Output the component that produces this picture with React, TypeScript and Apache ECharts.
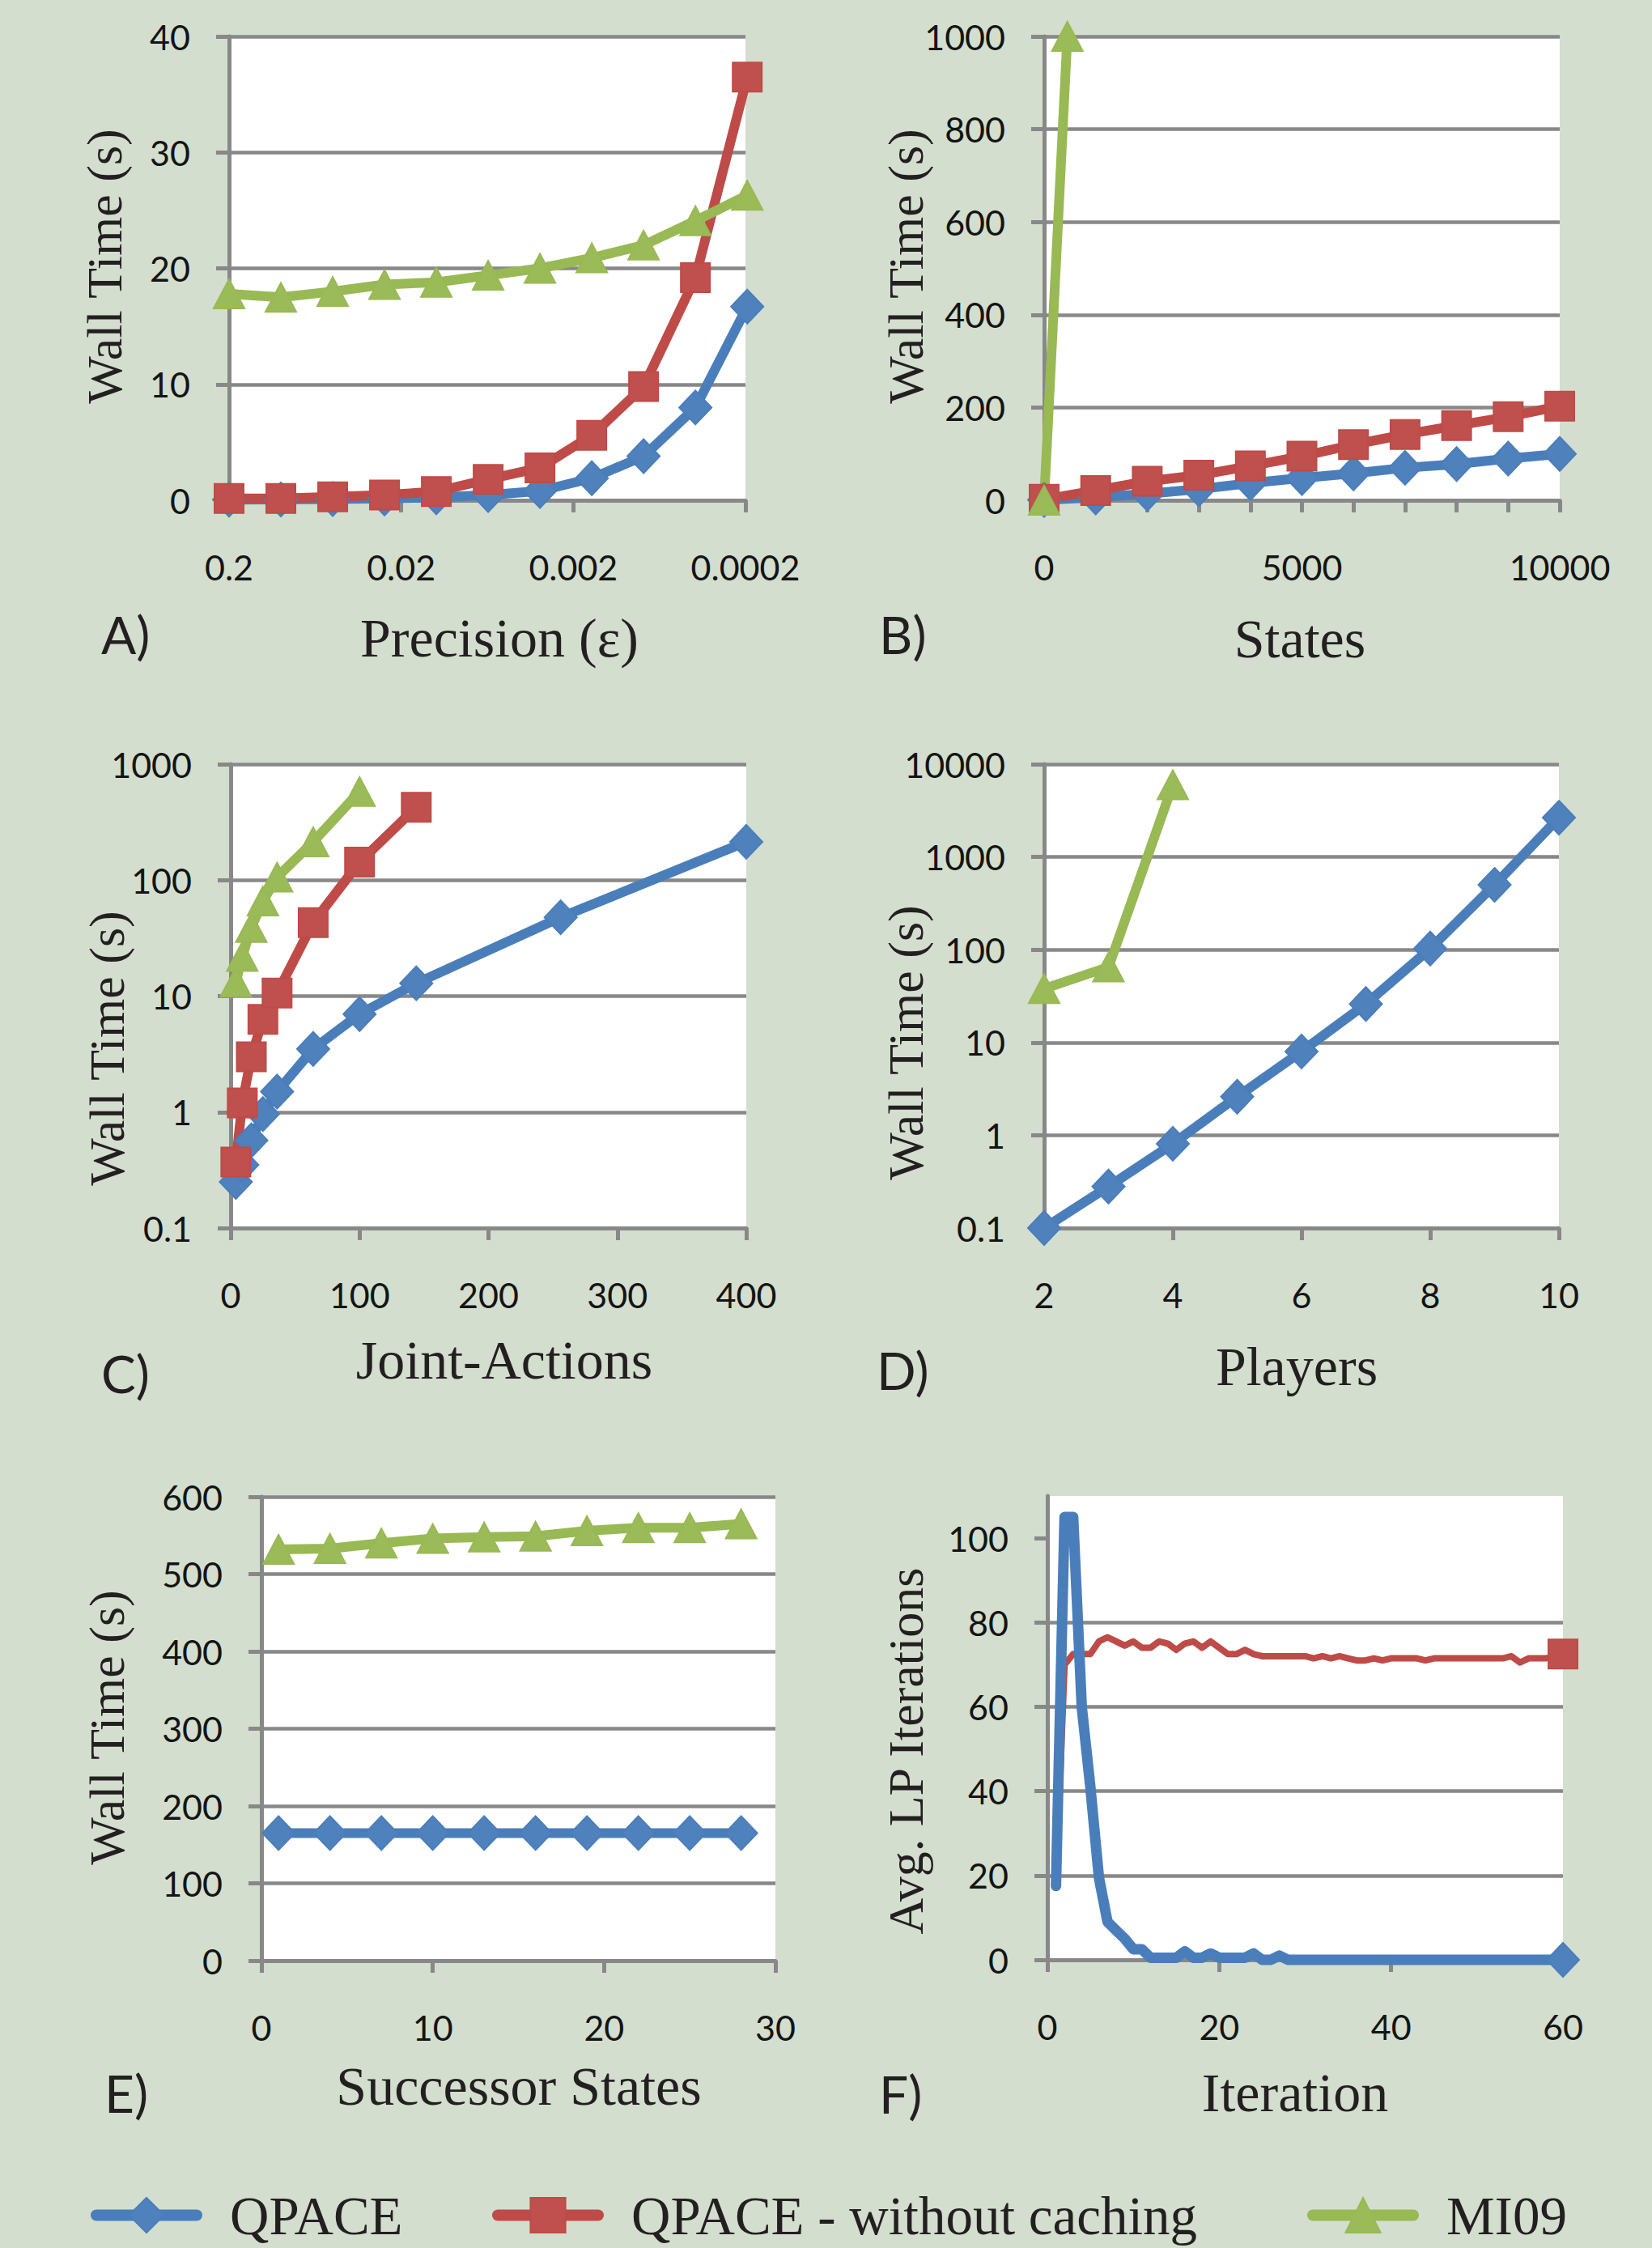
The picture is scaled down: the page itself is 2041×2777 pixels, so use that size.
import React, { useEffect, useRef } from "react";
import * as echarts from "echarts";

const W = 2041;
const H = 2777;
const BG = "#D3DECE";
const GRID = "#888888";
const TXT = "#141414";
const TITLE = "#231F20";
const SERIF = '"Liberation Serif", "Times New Roman", serif';
const SANS = 'Lato, "Open Sans", sans-serif';

const BLUE = { line: "#4A7EBB", fill: "#4F81BD" };
const RED = { line: "#BE4B48", fill: "#C0504D" };
const GREEN = { line: "#98B954", fill: "#9BBB59" };

const NAME_QPACE = "QPACE";
const NAME_NOCACHE = "QPACE - without caching";
const NAME_MI09 = "MI09";

// ---------- A) Precision ----------
const precisionX = [0.2, 0.1, 0.05, 0.025, 0.0125, 0.00625, 0.003125, 0.0015625, 0.00078125, 0.000390625, 0.0001953125];
const precisionQpace = [0.05, 0.07, 0.1, 0.15, 0.25, 0.45, 0.8, 1.9, 3.8, 8.0, 16.7];
const precisionNoCache = [0.15, 0.15, 0.3, 0.45, 0.75, 1.8, 2.8, 5.6, 9.8, 19.2, 36.5];
const precisionMi09 = [17.8, 17.5, 18.0, 18.6, 18.8, 19.4, 20.0, 20.9, 22.0, 24.1, 26.3];
const precisionTicks = [0.2, 0.02, 0.002, 0.0002];

// ---------- B) States ----------
const statesX = [0, 1000, 2000, 3000, 4000, 5000, 6000, 7000, 8000, 9000, 10000];
const statesQpace = [1, 6, 14, 24, 37, 48, 58, 70, 78, 90, 100];
const statesNoCache = [2, 21, 41, 54, 74, 95, 120, 142, 161, 180, 203];
const statesMi09X = [0, 450];
const statesMi09 = [0, 1000];

// ---------- C) Joint-Actions ----------
const jointQpaceX = [4, 9, 16, 25, 36, 64, 100, 144, 256, 400];
const jointQpace = [0.25, 0.35, 0.57, 0.96, 1.5, 3.5, 7.0, 12.9, 47.8, 214];
const jointNoCacheX = [4, 9, 16, 25, 36, 64, 100, 144];
const jointNoCache = [0.37, 1.2, 3.0, 6.3, 10.6, 43, 143, 425];
const jointMi09X = [4, 9, 16, 25, 36, 64, 100];
const jointMi09 = [13.2, 22, 39, 66, 106, 214, 580];

// ---------- D) Players ----------
const playersX = [2, 3, 4, 5, 6, 7, 8, 9, 10];
const playersQpace = [0.1, 0.28, 0.81, 2.6, 8.0, 26, 103, 500, 2650];
const playersMi09X = [2, 3, 4];
const playersMi09 = [38, 65, 6000];

// ---------- E) Successor States ----------
const successorX = [1, 4, 7, 10, 13, 16, 19, 22, 25, 28];
const successorQpace = [165, 165, 165, 165, 165, 165, 165, 165, 165, 165];
const successorMi09 = [532, 533, 540, 546, 548, 549, 556, 560, 560, 565];

// ---------- F) Iteration ----------
const iterX = [
  1, 2, 3, 4, 5, 6, 7, 8, 9, 10, 11, 12, 13, 14, 15, 16, 17, 18, 19, 20,
  21, 22, 23, 24, 25, 26, 27, 28, 29, 30, 31, 32, 33, 34, 35, 36, 37, 38, 39, 40,
  41, 42, 43, 44, 45, 46, 47, 48, 49, 50, 51, 52, 53, 54, 55, 56, 57, 58, 59, 60,
];
const iterQpace = [
  17.5, 105, 105, 60, 41, 19.5, 9, 7, 5, 2.5, 2.5, 0.5, 0.5, 0.5, 0.5, 2, 0.5, 0.5, 1.5, 0.5,
  0.5, 0.5, 0.5, 1.5, 0, 0, 1, 0, 0, 0, 0, 0, 0, 0, 0, 0, 0, 0, 0, 0,
  0, 0, 0, 0, 0, 0, 0, 0, 0, 0, 0, 0, 0, 0, 0, 0, 0, 0, 0, 0,
];
const iterNoCache = [
  17.5, 70, 72.5, 72.5, 72.5, 75.5, 76.5, 75.5, 74.5, 75.5, 74, 74, 75.5, 75, 73.5, 75, 75.5, 74, 75.5, 74,
  72.5, 72.5, 73.5, 72.5, 72, 72, 72, 72, 72, 72, 71.5, 72, 71.5, 72, 71.5, 71, 71, 71.5, 71, 71.5,
  71.5, 71.5, 71.5, 71, 71.5, 71.5, 71.5, 71.5, 71.5, 71.5, 71.5, 71.5, 71.5, 72, 70.5, 71.5, 71.5, 71.5, 72, 72.5,
];

// ---------- layout ----------
const grids = [
  { left: 283, top: 45, width: 638, height: 573 },
  { left: 1290, top: 45, width: 637, height: 573 },
  { left: 285, top: 944, width: 637, height: 573 },
  { left: 1290, top: 944, width: 636, height: 573 },
  { left: 323, top: 1849, width: 635, height: 573 },
  { left: 1294, top: 1848, width: 637, height: 573 },
];

const yTitles = [
  { text: "Wall Time (s)", x: 129, y: 329 },
  { text: "Wall Time (s)", x: 1119, y: 329 },
  { text: "Wall Time (s)", x: 132, y: 1295 },
  { text: "Wall Time (s)", x: 1119, y: 1288 },
  { text: "Wall Time (s)", x: 132, y: 2134 },
  { text: "Avg. LP Iterations", x: 1119, y: 2163 },
];
const xTitles = [
  { text: "Precision (\u03b5)", x: 617, y: 788 },
  { text: "States", x: 1606, y: 789 },
  { text: "Joint-Actions", x: 623, y: 1680 },
  { text: "Players", x: 1602, y: 1688 },
  { text: "Successor States", x: 641, y: 2577 },
  { text: "Iteration", x: 1600, y: 2585 },
];
const panelLetters = [
  { text: "A)", x: 125, y: 783 },
  { text: "B)", x: 1086, y: 783 },
  { text: "C)", x: 125, y: 1696 },
  { text: "D)", x: 1083, y: 1692 },
  { text: "E)", x: 129, y: 2585 },
  { text: "F)", x: 1086, y: 2586 },
];

const fmt = (v: number) => String(parseFloat(Number(v).toPrecision(6)));

const DIAMOND = [40, 42];
const SQUARE = 36;
const TRIANGLE = [38, 36];

function yAxis(gridIndex: number, extra: any) {
  return {
    gridIndex,
    type: "value",
    axisLine: { show: true, lineStyle: { color: GRID, width: 5 } },
    axisTick: { show: true, inside: false, length: 16, lineStyle: { color: GRID, width: 5 } },
    splitLine: { show: true, lineStyle: { color: GRID, width: 4.5 } },
    axisLabel: { margin: 48, color: TXT, fontFamily: SANS, fontSize: 43, formatter: fmt },
    ...extra,
  };
}

function xAxis(gridIndex: number, extra: any) {
  return {
    gridIndex,
    type: "value",
    axisLine: { show: true, onZero: false, lineStyle: { color: GRID, width: 5 } },
    axisTick: { show: true, inside: false, length: 15, lineStyle: { color: GRID, width: 5 } },
    splitLine: { show: false },
    axisLabel: { margin: 61, color: TXT, fontFamily: SANS, fontSize: 43, formatter: fmt },
    ...extra,
  };
}

function series(
  name: string,
  idx: number,
  xs: number[],
  ys: number[],
  sty: { line: string; fill: string },
  symbol: string,
  size: any,
  extra: any = {}
) {
  return {
    type: "line",
    name,
    xAxisIndex: idx,
    yAxisIndex: idx,
    data: xs.map((x, i) => [x, ys[i]]),
    symbol,
    symbolSize: size,
    showSymbol: true,
    showAllSymbol: true,
    clip: false,
    animation: false,
    lineStyle: { color: sty.line, width: 12, cap: "round", join: "round" },
    itemStyle: { color: sty.fill, borderColor: sty.line, borderWidth: 2 },
    emphasis: { disabled: true },
    ...extra,
  };
}

function endMarkerSeries(
  name: string,
  idx: number,
  xs: number[],
  ys: number[],
  sty: { line: string; fill: string },
  symbol: string,
  size: any,
  width: number,
  z: number
) {
  const last = xs.length - 1;
  return {
    type: "line",
    name,
    xAxisIndex: idx,
    yAxisIndex: idx,
    data: xs.map((x, i) =>
      i === last ? { value: [x, ys[i]], symbol, symbolSize: size } : { value: [x, ys[i]] }
    ),
    symbol: "none",
    showSymbol: true,
    showAllSymbol: true,
    clip: false,
    animation: false,
    z,
    lineStyle: { color: sty.line, width, cap: "round", join: "round" },
    itemStyle: { color: sty.fill, borderColor: sty.line, borderWidth: 2 },
    emphasis: { disabled: true },
  };
}

const LEGEND_CENTER = 2725;
const LEGEND_ITEM_H = 54;

function legend(name: string, left: number) {
  return {
    data: [name],
    left,
    top: LEGEND_CENTER - LEGEND_ITEM_H / 2,
    orient: "horizontal",
    itemWidth: 124,
    itemHeight: LEGEND_ITEM_H,
    selectedMode: false,
    lineStyle: { width: 14, cap: "round" },
    textStyle: {
      fontFamily: SERIF,
      fontSize: 67,
      color: TITLE,
      padding: [0, 0, 0, 36],
    },
  };
}

function textEl(t: { text: string; x: number; y: number }, font: string, align: string, rot = 0) {
  return {
    type: "text",
    x: t.x,
    y: t.y,
    rotation: rot,
    silent: true,
    style: {
      text: t.text,
      font,
      fill: TITLE,
      align,
      textAlign: align,
      verticalAlign: "middle",
      textVerticalAlign: "middle",
    },
  };
}

function buildOption() {
  const xAxes = [
    xAxis(0, {
      type: "log",
      logBase: 10,
      inverse: true,
      min: 0.0002,
      max: 0.2,
      axisLabel: {
        margin: 61,
        color: TXT,
        fontFamily: SANS,
        fontSize: 43,
        formatter: fmt,
        customValues: precisionTicks,
      },
      axisTick: {
        show: true,
        length: 15,
        lineStyle: { color: GRID, width: 5 },
        customValues: precisionTicks,
      },
    }),
    xAxis(1, {
      min: 0,
      max: 10000,
      interval: 1000,
      axisLabel: {
        margin: 61,
        color: TXT,
        fontFamily: SANS,
        fontSize: 43,
        formatter: (v: number) => (v % 5000 === 0 ? String(v) : ""),
      },
    }),
    xAxis(2, { min: 0, max: 400, interval: 100 }),
    xAxis(3, { min: 2, max: 10, interval: 2 }),
    xAxis(4, { min: 0, max: 30, interval: 10 }),
    xAxis(5, { min: 0, max: 60, interval: 20 }),
  ];

  const yAxes = [
    yAxis(0, { min: 0, max: 40, interval: 10 }),
    yAxis(1, { min: 0, max: 1000, interval: 200 }),
    yAxis(2, { type: "log", logBase: 10, min: 0.1, max: 1000, splitNumber: 4 }),
    yAxis(3, { type: "log", logBase: 10, min: 0.1, max: 10000, splitNumber: 5 }),
    yAxis(4, { min: 0, max: 600, interval: 100 }),
    yAxis(5, {
      min: 0,
      max: 110,
      interval: 20,
      axisLabel: { margin: 48, color: TXT, fontFamily: SANS, fontSize: 43, formatter: fmt, showMaxLabel: false },
      splitLine: { show: true, showMaxLine: false, lineStyle: { color: GRID, width: 4.5 } },
      axisTick: {
        show: true,
        length: 16,
        lineStyle: { color: GRID, width: 5 },
        customValues: [0, 20, 40, 60, 80, 100],
      },
    }),
  ];

  const allSeries = [
    // A
    series(NAME_QPACE, 0, precisionX, precisionQpace, BLUE, "diamond", DIAMOND),
    series(NAME_NOCACHE, 0, precisionX, precisionNoCache, RED, "rect", SQUARE),
    series(NAME_MI09, 0, precisionX, precisionMi09, GREEN, "triangle", TRIANGLE),
    // B
    series(NAME_QPACE, 1, statesX, statesQpace, BLUE, "diamond", DIAMOND),
    series(NAME_NOCACHE, 1, statesX, statesNoCache, RED, "rect", SQUARE),
    series(NAME_MI09, 1, statesMi09X, statesMi09, GREEN, "triangle", TRIANGLE),
    // C
    series(NAME_QPACE, 2, jointQpaceX, jointQpace, BLUE, "diamond", DIAMOND),
    series(NAME_NOCACHE, 2, jointNoCacheX, jointNoCache, RED, "rect", SQUARE),
    series(NAME_MI09, 2, jointMi09X, jointMi09, GREEN, "triangle", TRIANGLE),
    // D
    series(NAME_QPACE, 3, playersX, playersQpace, BLUE, "diamond", DIAMOND),
    series(NAME_MI09, 3, playersMi09X, playersMi09, GREEN, "triangle", TRIANGLE),
    // E
    series(NAME_QPACE, 4, successorX, successorQpace, BLUE, "diamond", DIAMOND),
    series(NAME_MI09, 4, successorX, successorMi09, GREEN, "triangle", TRIANGLE),
    // F
    endMarkerSeries(NAME_NOCACHE, 5, iterX, iterNoCache, RED, "rect", SQUARE, 8, 2),
    endMarkerSeries(NAME_QPACE, 5, iterX, iterQpace, BLUE, "diamond", DIAMOND, 13, 3),
  ];

  const graphics: any[] = [];
  yTitles.forEach((t) => graphics.push(textEl(t, `62px ${SERIF}`, "center", Math.PI / 2)));
  xTitles.forEach((t) => graphics.push(textEl(t, `68px ${SERIF}`, "center")));
  panelLetters.forEach((t) => graphics.push(textEl(t, `64px ${SANS}`, "left")));

  return {
    animation: false,
    backgroundColor: BG,
    grid: grids.map((g) => ({
      ...g,
      show: true,
      backgroundColor: "#FFFFFF",
      borderWidth: 0,
      containLabel: false,
    })),
    xAxis: xAxes,
    yAxis: yAxes,
    legend: [legend(NAME_QPACE, 107), legend(NAME_NOCACHE, 603), legend(NAME_MI09, 1610)],
    series: allSeries,
    graphic: { elements: graphics },
  };
}

export default function App() {
  const ref = useRef<HTMLDivElement>(null);
  useEffect(() => {
    document.body.style.margin = "0";
    const chart = echarts.init(ref.current!, null, { renderer: "svg", width: W, height: H });
    chart.setOption(buildOption() as any);
    return () => chart.dispose();
  }, []);
  return <div ref={ref} style={{ width: W, height: H }} />;
}
